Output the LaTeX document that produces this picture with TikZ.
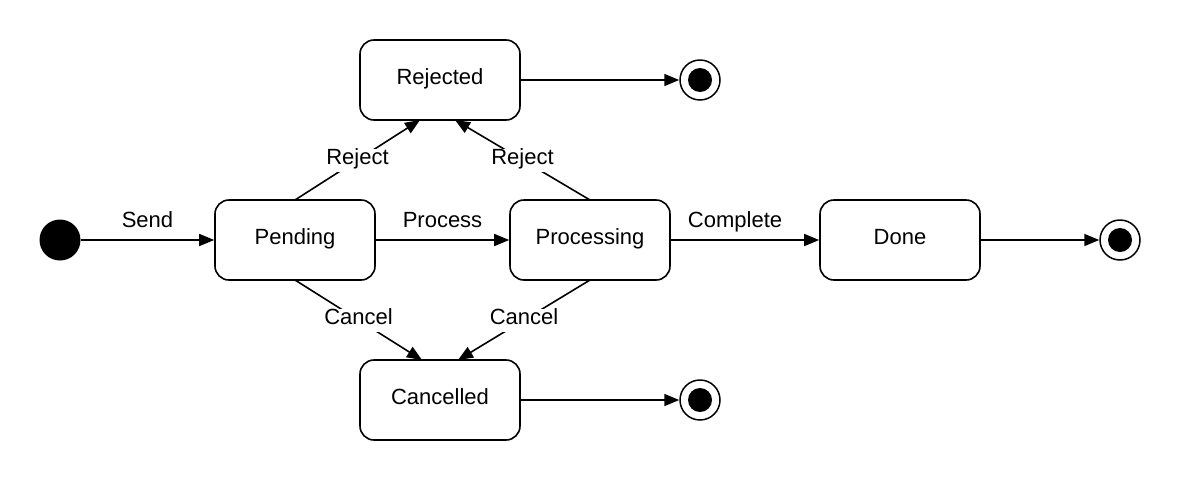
\documentclass[tikz,border=0pt]{standalone}
\usepackage{fontspec}
\setmainfont{Liberation Sans}
\usetikzlibrary{arrows.meta}
\begin{document}
\begin{tikzpicture}[x=1pt,y=-1pt,
  state/.style={draw,line width=1.6pt,rounded corners=14pt,minimum width=160pt,minimum height=80pt,inner sep=0pt,text height=15pt,text depth=6pt,font=\fontsize{22}{26}\selectfont},
  initst/.style={circle,fill=black,minimum size=41pt,inner sep=0pt},
  finalst/.style={circle,draw,line width=1.5pt,minimum size=40pt,inner sep=0pt,path picture={\fill[black] (path picture bounding box.center) circle (12pt);}},
  trans/.style={line width=1.6pt,-{Triangle[length=15pt,width=12pt]}},
  lbl/.style={fill=white,inner sep=1pt,text height=15pt,text depth=6pt,font=\fontsize{22}{26}\selectfont},
  lblabove/.style={anchor=base,yshift=13pt,inner sep=0pt,font=\fontsize{22}{26}\selectfont}]
\useasboundingbox (0,0) rectangle (1180,480);
\node[initst] (init) at (60,240) {};
\node[state] (pending) at (295,240) {Pending};
\node[state] (processing) at (590,240) {Processing};
\node[state] (done) at (900,240) {Done};
\node[state] (rejected) at (440,80) {Rejected};
\node[state] (cancelled) at (440,400) {Cancelled};
\node[finalst] (f1) at (700,80) {};
\node[finalst] (f2) at (1120,240) {};
\node[finalst] (f3) at (700,400) {};
\coordinate (pt) at (295,200);
\coordinate (pb) at (295,280);
\coordinate (qt) at (590,200);
\coordinate (qb) at (590,280);
\coordinate (rb1) at (420,120);
\coordinate (rb2) at (455,120);
\coordinate (cb1) at (422,360);
\coordinate (cb2) at (458,360);
\draw[trans] (init) -- node[lblabove] {Send} (pending);
\draw[trans] (pending) -- node[lblabove] {Process} (processing);
\draw[trans] (processing) -- node[lblabove,pos=0.433] {Complete} (done);
\draw[trans] (done) -- (f2);
\draw[trans] (rejected) -- (f1);
\draw[trans] (cancelled) -- (f3);
\draw[trans] (pt) -- node[lbl] {Reject} (rb1);
\draw[trans] (qt) -- node[lbl] {Reject} (rb2);
\draw[trans] (pb) -- node[lbl] {Cancel} (cb1);
\draw[trans] (qb) -- node[lbl] {Cancel} (cb2);
\end{tikzpicture}
\end{document}
